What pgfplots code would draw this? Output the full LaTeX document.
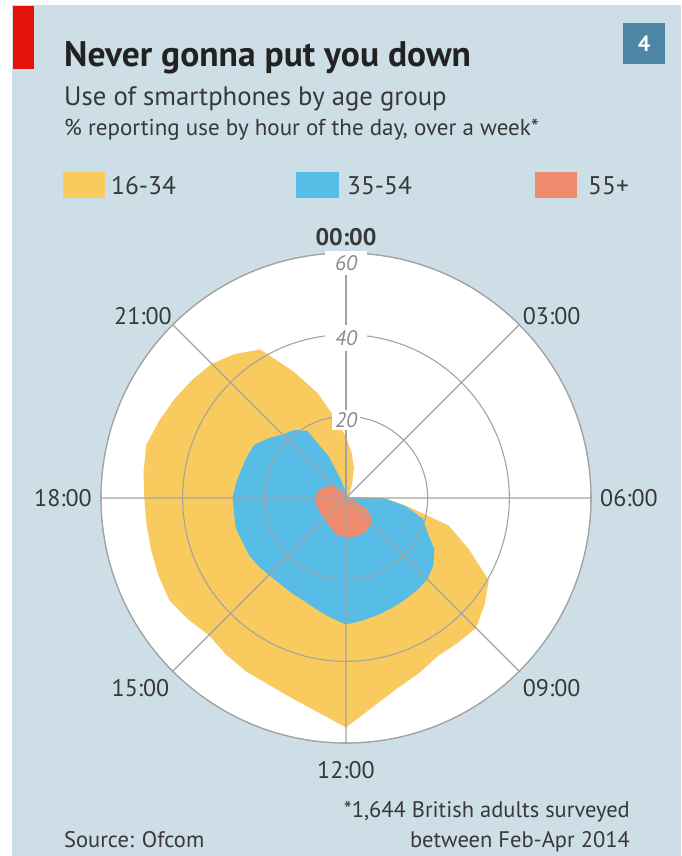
\documentclass[border=0pt]{standalone}
\usepackage{fontspec}
\setmainfont{PT Sans}
\usepackage{pgfplots}
\pgfplotsset{compat=1.18}
\usepgfplotslibrary{polar}
\usepackage{pgfplotstable}
\definecolor{bgc}{HTML}{CEDEE6}
\definecolor{yelc}{HTML}{F9CB5E}
\definecolor{bluc}{HTML}{58BDE6}
\definecolor{orac}{HTML}{EE8C6D}
\definecolor{redc}{HTML}{E3120B}
\definecolor{boxc}{HTML}{4C86A4}
\definecolor{gridc}{HTML}{A3A3A3}
\definecolor{txtc}{HTML}{222222}
\definecolor{labc}{HTML}{8A8A8A}

% hour of day, % reporting use
\pgfplotstableread{
h r
0 15
0.5 11
1 7.5
1.5 4
2 2
3 1
4 0.8
5 1
6 9.5
6.5 15
7 26
7.5 32.5
8 40.4
8.5 42.8
9 45
9.5 44.8
10 44.8
10.5 46.5
11 48.3
11.5 51.5
12 56.2
12.5 52.9
13 50.8
13.5 49.5
14 49
14.5 48.3
15 47.5
15.5 48.8
16 50
16.5 49.7
17 49.4
17.5 49.3
18 49.4
18.5 50
19 50.6
19.5 49.5
20 48.5
20.5 47.5
21 46.5
21.5 44.5
22 42
22.5 33.5
23 26.5
23.5 19.5
24 15
}\young

\pgfplotstableread{
h r
0 0.5
1 0.3
2 0.3
3 0.3
4 0.3
5 0.5
6 9
6.5 14.5
7 19.5
7.5 21.5
8 25
8.5 27
9 28.2
9.5 28.5
10 28.8
10.5 29.2
11 29.7
11.5 30.3
12 31
12.5 29.5
13 28.2
13.5 27.2
14 26.8
15 26.7
15.5 27.2
16 27.6
17 28
18 27.8
18.5 27.2
19 26.6
19.5 26.3
20 26
20.5 24
21 22
21.5 21
22 19
22.5 11
23 4.5
23.5 2
24 0.5
}\middle

\pgfplotstableread{
h r
0 0.5
1 0.3
2 0.3
3 0.3
4 0.3
5 0.3
6 0.5
7 1.5
7.5 3
8 6
8.5 7.8
9 8.7
10 9.6
11 9.7
12 9.7
13 9.2
14 8.0
15 7.3
16 7.2
17 7.4
18 7.7
19 7.0
20 5.6
21 4.2
22 2.3
23 1.0
24 0.5
}\older

\begin{document}
\begin{tikzpicture}[x=1pt,y=1pt]
\useasboundingbox (0,0) rectangle (681,856);
\fill[white] (0,0) rectangle (681,856);
\fill[bgc] (12,0) rectangle (681,851);
\fill[redc] (12.5,787) rectangle (34,850);
\fill[boxc] (623,792) rectangle (665,833);
\node[text=white, font=\fontsize{22}{26}\selectfont\bfseries] at (644,812.5) {4};

\node[anchor=base west, text=txtc, inner sep=0pt, font=\fontsize{35.5}{40}\selectfont\bfseries] at (64,789) {Never gonna put you down};
\node[anchor=base west, text=txtc!90, inner sep=0pt, font=\fontsize{26.7}{31}\selectfont] at (64,750) {Use of smartphones by age group};
\node[anchor=base west, text=txtc!90, inner sep=0pt, font=\fontsize{23}{27}\selectfont] at (64,720) {\% reporting use by hour of the day, over a week*};

% legend
\fill[yelc] (63,658) rectangle (105,684);
\node[anchor=base west, text=txtc!90, inner sep=0pt, font=\fontsize{25.5}{30}\selectfont] at (111,661) {16-34};
\fill[bluc] (296,658) rectangle (339,684);
\node[anchor=base west, text=txtc!90, inner sep=0pt, font=\fontsize{25.5}{30}\selectfont] at (347,661) {35-54};
\fill[orac] (535,658) rectangle (577,684);
\node[anchor=base west, text=txtc!90, inner sep=0pt, font=\fontsize{25.5}{30}\selectfont] at (588,661) {55+};

\fill[white] (346,358) circle (245);

\begin{polaraxis}[
  at={(346pt,358pt)}, anchor=origin,
  scale only axis, width=490pt, height=490pt,
  xmin=90, xmax=450, ymin=0, ymax=60,
  xtick={90,135,180,225,270,315,360,405},
  xticklabels={},
  ytick={20,40,60}, yticklabels={},
  grid=major,
  major grid style={draw=gridc, line width=1.1pt},
  axis line style={draw=gridc, line width=1.1pt},
  major tick length=0pt,
  axis on top,
]
\addplot[fill=yelc, draw=none, no markers] table[x expr={450-15*\thisrow{h}}, y=r] {\young};
\addplot[fill=bluc, draw=none, no markers] table[x expr={450-15*\thisrow{h}}, y=r] {\middle};
\addplot[fill=orac, draw=none, no markers] table[x expr={450-15*\thisrow{h}}, y=r] {\older};
\end{polaraxis}

\node[fill=white, inner xsep=3pt, inner ysep=2pt, text=labc, font=\fontsize{21}{24}\selectfont\itshape] at (346,436) {20};
\node[fill=white, inner xsep=10pt, inner ysep=5pt, text=labc, font=\fontsize{21}{24}\selectfont\itshape] at (346,518) {40};
\node[fill=white, inner xsep=10pt, inner ysep=4pt, text=labc, font=\fontsize{21}{24}\selectfont\itshape] at (346,593) {60};

% hour labels
\begin{scope}[every node/.style={text=txtc!90, inner sep=0pt, font=\fontsize{24}{28}\selectfont}]
\node at (346,619) {\bfseries 00:00};
\node at (551.7,540) {03:00};
\node at (629,358) {06:00};
\node at (551.7,168) {09:00};
\node at (346,86) {12:00};
\node at (140.5,168) {15:00};
\node at (63,358) {18:00};
\node at (143,540) {21:00};
\end{scope}

\node[anchor=base east, text=txtc!90, inner sep=0pt, font=\fontsize{22.5}{26}\selectfont] at (630,38) {*1,644 British adults surveyed};
\node[anchor=base east, text=txtc!90, inner sep=0pt, font=\fontsize{22.5}{26}\selectfont] at (630,9) {between Feb-Apr 2014};
\node[anchor=base west, text=txtc!90, inner sep=0pt, font=\fontsize{22.5}{26}\selectfont] at (64,9) {Source: Ofcom};
\end{tikzpicture}
\end{document}
